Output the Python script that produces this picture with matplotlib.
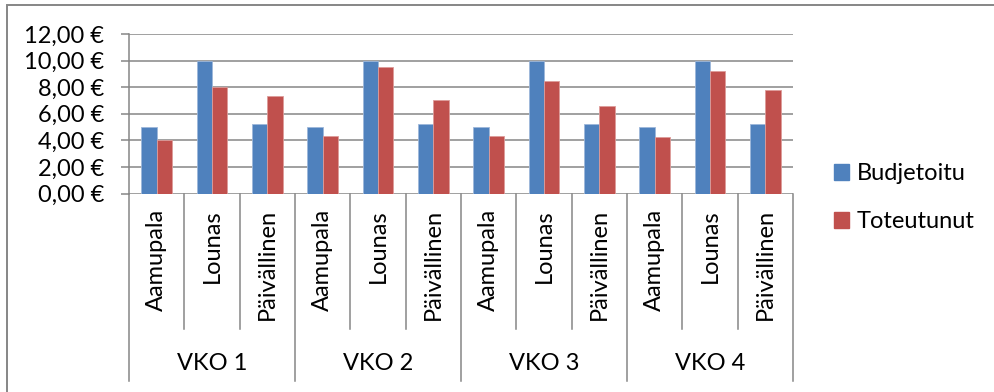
import numpy as np
import matplotlib.pyplot as plt
from matplotlib.patches import Rectangle, Patch

plt.rcParams['font.family'] = ['Lato', 'DejaVu Sans']

# data
weeks = ['VKO 1', 'VKO 2', 'VKO 3', 'VKO 4']
meals = ['Aamupala', 'Lounas', 'Päivällinen']
budjetoitu = [5.0, 10.0, 5.25, 5.0, 10.0, 5.25, 5.0, 10.0, 5.25, 5.0, 10.0, 5.25]
toteutunut = [4.0, 8.0, 7.3, 4.3, 9.5, 7.0, 4.3, 8.5, 6.6, 4.25, 9.2, 7.75]
y_ticks = [0, 2, 4, 6, 8, 10, 12]

W, H = 995, 392
GRAY = '#868686'
BLUE = '#4F81BD'
RED = '#C0504D'
FS = 17

fig = plt.figure(figsize=(W / 100, H / 100), dpi=100)

# outer chart frame (only left and top edges show)
fig.patches.append(Rectangle((7 / W, -0.2), 1.2, 1.2 - 5 / H,
                             transform=fig.transFigure, fill=False,
                             edgecolor=GRAY, lw=1.4))

left, right, top, bottom = 129, 793, 34, 193.5
ax = fig.add_axes([left / W, 1 - bottom / H, (right - left) / W, (bottom - top) / H])

n = len(budjetoitu)
x = np.arange(n)
bw = 0.28
ax.bar(x - bw / 2, budjetoitu, bw, color=BLUE, edgecolor='#9DB7DA', lw=0.6, zorder=3)
ax.bar(x + bw / 2, toteutunut, bw, color=RED, edgecolor='#DD9C9A', lw=0.6, zorder=3)

ax.set_xlim(-0.5, n - 0.5)
ax.set_ylim(0, 12)
ax.set_yticks(y_ticks)
ax.set_yticklabels([f'{v:.2f} €'.replace('.', ',') for v in y_ticks], fontsize=FS)
ax.tick_params(axis='y', length=6, width=1.1, color=GRAY, pad=12)
ax.set_xticks([])
ax.grid(axis='y', color=GRAY, lw=1.1, zorder=0)
for s in ['top', 'right', 'bottom']:
    ax.spines[s].set_visible(False)
ax.spines['left'].set_color(GRAY)
ax.spines['left'].set_linewidth(1.1)

# two-level category axis below the plot
ph = bottom - top
tr = ax.get_xaxis_transform()
inner_end = -(329 - bottom) / ph
outer_end = -(381 - bottom) / ph
for i in range(n + 1):
    xb = i - 0.5
    y_end = outer_end if i % 3 == 0 else inner_end
    ax.plot([xb, xb], [0, y_end], color=GRAY, lw=1.1, transform=tr, clip_on=False)

for i in range(n):
    ax.text(i, -(209 - bottom) / ph, meals[i % 3], transform=tr, rotation=90,
            ha='center', va='top', fontsize=FS)
for j, w in enumerate(weeks):
    ax.text(3 * j + 1, -(363 - bottom) / ph, w, transform=tr,
            ha='center', va='center', fontsize=FS)

handles = [Patch(color=BLUE), Patch(color=RED)]
fig.legend(handles, ['Budjetoitu', 'Toteutunut'], loc='upper left',
           bbox_to_anchor=(834 / W, 1 - 163 / H), frameon=False, fontsize=FS,
           handlelength=0.65, handleheight=0.65, handletextpad=0.3,
           labelspacing=1.15, borderaxespad=0, borderpad=0)

fig.savefig('out.png', dpi=100)
